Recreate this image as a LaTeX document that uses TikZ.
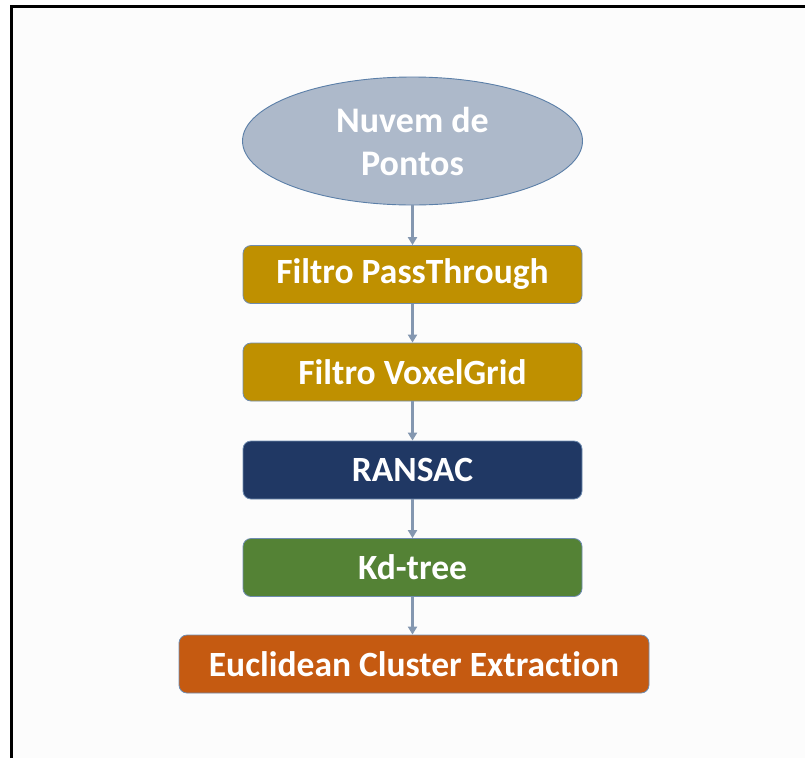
\documentclass[tikz,border=0pt]{standalone}
\usepackage{fontspec}
\setmainfont[RawFeature=-liga]{Carlito}
\usetikzlibrary{shapes.geometric,arrows.meta}
\definecolor{ellfill}{HTML}{ADB9CA}
\definecolor{ellline}{HTML}{5B7FA8}
\definecolor{gold}{HTML}{BF9000}
\definecolor{navy}{HTML}{203864}
\definecolor{leaf}{HTML}{548235}
\definecolor{rust}{HTML}{C55A11}
\definecolor{boxline}{HTML}{6F8CB0}
\definecolor{arrowc}{HTML}{8497B0}
\definecolor{bgc}{HTML}{FCFCFC}
\tikzset{
  stepbox/.style={rectangle, rounded corners=8pt, draw=boxline, line width=0.8pt,
    minimum height=58pt, text=white, font=\fontsize{35.5}{43}\selectfont\bfseries, inner sep=0pt},
  cloud/.style={ellipse, draw=ellline, line width=0.9pt, fill=ellfill, minimum width=340pt,
    minimum height=128pt, inner sep=0pt, text=white, align=center,
    font=\fontsize{36}{43}\selectfont\bfseries},
  flow/.style={draw=arrowc, line width=2.2pt, -{Triangle[length=8pt,width=9pt]}}
}
\begin{document}
\begin{tikzpicture}[x=1pt,y=-1pt]
\useasboundingbox (0,0) rectangle (805,758);
\fill[white] (0,0) rectangle (805,758);
\fill[bgc] (11.5,6.5) rectangle (805,758);
\draw[black, line width=3.2pt] (11.5,758) -- (11.5,6.5) -- (805,6.5);
\node[cloud] (cloud) at (412.5,141) {Nuvem de\\Pontos};
\node[stepbox, fill=gold, minimum width=339pt] (pass) at (412.5,274.5) {Filtro PassThrough};
\node[stepbox, fill=gold, minimum width=339pt] (voxel) at (412.5,372) {Filtro VoxelGrid};
\node[stepbox, fill=navy, minimum width=339pt] (ransac) at (412.5,470) {RANSAC};
\node[stepbox, fill=leaf, minimum width=339pt] (kd) at (412.5,567.5) {Kd-tree};
\node[stepbox, fill=rust, minimum width=470pt] (euc) at (414,664) {Euclidean Cluster Extraction};
\draw[flow] (cloud.south) -- (pass.north);
\draw[flow] (pass.south) -- (voxel.north);
\draw[flow] (voxel.south) -- (ransac.north);
\draw[flow] (ransac.south) -- (kd.north);
\draw[flow] (kd.south) -- (kd.south |- euc.north);
\end{tikzpicture}
\end{document}
